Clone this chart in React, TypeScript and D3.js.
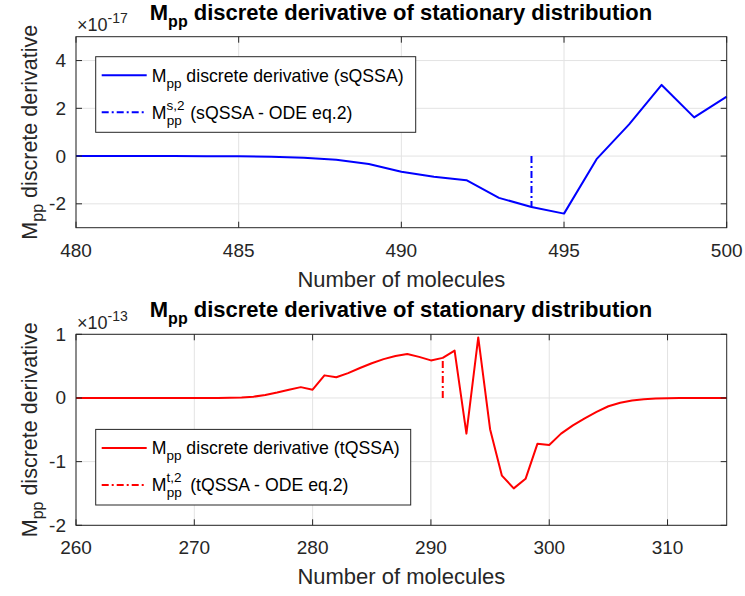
import * as d3 from "d3";

// top panel: sQSSA (values in units of 1e-17)
const sqssaN = [480, 481, 482, 483, 484, 485, 486, 487, 488, 489, 490, 491, 492, 493, 494, 495, 496, 497, 498, 499, 500];
const sqssaDeriv = [0, 0, 0, 0, -0.005, -0.01, -0.03, -0.07, -0.15, -0.33, -0.66, -0.87, -1.01, -1.75, -2.13, -2.41, -0.13, 1.33, 2.98, 1.62, 2.49];
const sqssaMarker = 494;
const sqssaXTicks = [480, 485, 490, 495, 500];
const sqssaYTicks = [-2, 0, 2, 4];

// bottom panel: tQSSA (values in units of 1e-13)
const tqssaN = [
  260, 261, 262, 263, 264, 265, 266, 267, 268, 269, 270, 271, 272, 273, 274, 275, 276, 277, 278, 279,
  280, 281, 282, 283, 284, 285, 286, 287, 288, 289, 290, 291, 292, 293, 294, 295, 296, 297, 298, 299,
  300, 301, 302, 303, 304, 305, 306, 307, 308, 309, 310, 311, 312, 313, 314, 315,
];
const tqssaDeriv = [
  0, 0, 0, 0, 0, 0, 0, 0, 0, 0, 0, 0, 0, 0.002, 0.008, 0.02, 0.045, 0.085, 0.13, 0.17,
  0.13, 0.355, 0.325, 0.39, 0.47, 0.545, 0.61, 0.66, 0.69, 0.645, 0.59, 0.63, 0.745, -0.56, 0.95, -0.49, -1.22, -1.42, -1.27, -0.72,
  -0.74, -0.56, -0.43, -0.32, -0.22, -0.13, -0.075, -0.04, -0.02, -0.01, -0.004, 0, 0, 0, 0, 0,
];
const tqssaMarker = 291;
const tqssaXTicks = [260, 270, 280, 290, 300, 310];
const tqssaYTicks = [-2, -1, 0, 1];

const FONT = "'Liberation Sans', Arial, Helvetica, sans-serif";
const AX = "#262626";
const GRID = "#e3e3e3";
const DASHDOT = "7,3,2,3";

interface PanelProps {
  top: number;
  xs: number[];
  ys: number[];
  xDomain: [number, number];
  yDomain: [number, number];
  xTicks: number[];
  yTicks: number[];
  exponent: string;
  color: string;
  marker: number;
  tag: string;
  legendW: number;
  legendY: number;
}

function Panel({ top, xs, ys, xDomain, yDomain, xTicks, yTicks, exponent, color, marker, tag, legendW, legendY }: PanelProps) {
  const left = 76;
  const right = 726.7;
  const bottom = top + 191;
  const x = d3.scaleLinear().domain(xDomain).range([left, right]);
  const y = d3.scaleLinear().domain(yDomain).range([bottom, top]);
  const pts = xs.map((v, i) => [v, ys[i]] as [number, number]);
  const line = d3
    .line<[number, number]>()
    .x((d) => x(d[0]))
    .y((d) => y(d[1]));
  const markerVal = ys[xs.indexOf(marker)];
  const cx = (left + right) / 2;
  const cy = (top + bottom) / 2;
  const lx = 95.7;
  const ly = legendY;
  const r1 = ly + 18.5;
  const r2 = ly + 55.5;

  return (
    <g fontFamily={FONT}>
      {/* grid */}
      {xTicks.map((t) => (
        <line key={"gx" + t} x1={x(t)} x2={x(t)} y1={top} y2={bottom} stroke={GRID} strokeWidth={1} />
      ))}
      {yTicks.map((t) => (
        <line key={"gy" + t} x1={left} x2={right} y1={y(t)} y2={y(t)} stroke={GRID} strokeWidth={1} />
      ))}
      {/* data */}
      <path d={line(pts)!} fill="none" stroke={color} strokeWidth={2} strokeLinejoin="round" />
      <line x1={x(marker)} x2={x(marker)} y1={y(0)} y2={y(markerVal)} stroke={color} strokeWidth={2} strokeDasharray={DASHDOT} />
      {/* box and ticks */}
      <rect x={left} y={top} width={right - left} height={bottom - top} fill="none" stroke={AX} strokeWidth={1} />
      {xTicks.map((t) => (
        <g key={"tx" + t}>
          <line x1={x(t)} x2={x(t)} y1={bottom} y2={bottom - 6} stroke={AX} />
          <line x1={x(t)} x2={x(t)} y1={top} y2={top + 6} stroke={AX} />
          <text x={x(t)} y={bottom + 29} textAnchor="middle" fontSize={19} fill={AX}>
            {t}
          </text>
        </g>
      ))}
      {yTicks.map((t) => (
        <g key={"ty" + t}>
          <line x1={left} x2={left + 6} y1={y(t)} y2={y(t)} stroke={AX} />
          <line x1={right} x2={right - 6} y1={y(t)} y2={y(t)} stroke={AX} />
          <text x={left - 10} y={y(t) + 6.5} textAnchor="end" fontSize={19} fill={AX}>
            {t}
          </text>
        </g>
      ))}
      {/* exponent */}
      <text x={77} y={top - 5.5} fontSize={18} fill={AX}>
        ×10
        <tspan fontSize={14} dy={-8}>
          {exponent}
        </tspan>
      </text>
      {/* title */}
      <text x={401} y={top - 17} textAnchor="middle" fontSize={22} fontWeight="bold" fill="#000">
        M
        <tspan fontSize={16} dy={7}>
          pp
        </tspan>
        <tspan dy={-7}> discrete derivative of stationary distribution</tspan>
      </text>
      {/* axis labels */}
      <text x={cx} y={bottom + 59} textAnchor="middle" fontSize={22} fill={AX}>
        Number of molecules
      </text>
      <text transform={`translate(37,${cy}) rotate(-90)`} textAnchor="middle" fontSize={21.5} fill={AX}>
        M
        <tspan fontSize={16} dy={6}>
          pp
        </tspan>
        <tspan dy={-6}> discrete derivative</tspan>
      </text>
      {/* legend */}
      <rect x={lx} y={ly} width={legendW} height={75.6} fill="#fff" stroke={AX} strokeWidth={1} />
      <line x1={lx + 6} x2={lx + 51} y1={r1} y2={r1} stroke={color} strokeWidth={2} />
      <line x1={lx + 6} x2={lx + 51} y1={r2} y2={r2} stroke={color} strokeWidth={2} strokeDasharray={DASHDOT} />
      <text x={lx + 56} y={r1 + 6.5} fontSize={17.7} fill="#000">
        M
        <tspan fontSize={13.5} dy={6}>
          pp
        </tspan>
        <tspan dy={-6}>{` discrete derivative (${tag})`}</tspan>
      </text>
      <text x={lx + 56} y={r2 + 6.5} fontSize={17.7} fill="#000">
        M
        <tspan fontSize={13.5} dy={-9}>
          {tag[0] + ",2"}
        </tspan>
        <tspan fontSize={13.5} x={lx + 71} dy={15}>
          pp
        </tspan>
        <tspan x={lx + 94.5} dy={-6}>{`(${tag} - ODE eq.2)`}</tspan>
      </text>
    </g>
  );
}

export default function App() {
  return (
    <svg width={745} height={596} style={{ position: "absolute", left: 0, top: 0, background: "#fff" }}>
      <rect width={745} height={596} fill="#fff" />
      <Panel
        top={36.7}
        xs={sqssaN}
        ys={sqssaDeriv}
        xDomain={[480, 500]}
        yDomain={[-3, 5]}
        xTicks={sqssaXTicks}
        yTicks={sqssaYTicks}
        exponent="-17"
        color="#0000ff"
        marker={sqssaMarker}
        tag="sQSSA"
        legendW={320}
        legendY={56.7}
      />
      <Panel
        top={334.3}
        xs={tqssaN}
        ys={tqssaDeriv}
        xDomain={[260, 315]}
        yDomain={[-2, 1]}
        xTicks={tqssaXTicks}
        yTicks={tqssaYTicks}
        exponent="-13"
        color="#ff0000"
        marker={tqssaMarker}
        tag="tQSSA"
        legendW={315}
        legendY={429.4}
      />
    </svg>
  );
}
